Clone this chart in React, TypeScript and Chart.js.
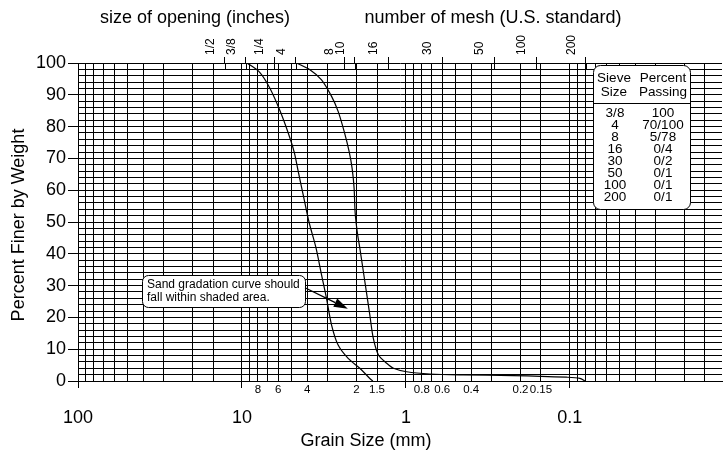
import { useEffect, useRef } from 'react';
import { Chart, registerables } from 'chart.js';

Chart.register(...registerables);

// ---- data (grain size in mm, percent finer by weight) ----
const lowerBoundSize = [9.3, 7.77, 6.74, 5.86, 5.22, 4.8, 4.54, 4.23, 3.9, 3.54, 3.27, 3.05, 2.84, 2.59, 2.25, 1.91, 1.66, 1.59];
const lowerBoundPct = [100, 97, 92, 85, 78, 72, 66, 58.5, 50, 42, 33.4, 26, 17.6, 11.3, 7.1, 4.0, 0.8, 0];

const upperBoundSize = [4.65, 3.85, 3.27, 2.84, 2.59, 2.38, 2.22, 2.13, 2.07, 2.04, 1.976, 1.91, 1.78, 1.66, 1.58, 1.47, 1.31, 1.19, 0.99, 0.714, 0.448, 0.223, 0.105, 0.0868, 0.081];
const upperBoundPct = [100, 97.9, 94.7, 89.5, 84.8, 78.5, 72.2, 67, 60.7, 53, 46.5, 41.8, 31.3, 20.8, 13.4, 8.2, 5.6, 4.0, 2.9, 2.2, 1.9, 1.7, 1.2, 0.85, 0];

// graph-paper vertical lines (mm)
const gridSizes = [100, 90, 80, 70, 60, 50, 40, 30, 20, 15, 10, 9, 8, 7, 6, 5, 4, 3, 2, 1.5, 1, 0.9, 0.8, 0.7, 0.6, 0.5, 0.4, 0.3, 0.2, 0.15, 0.1, 0.09, 0.08, 0.07, 0.06, 0.05, 0.04, 0.03, 0.02, 0.015];
const decadeSizes = [100, 10, 1, 0.1];
const decadeLabels = ['100', '10', '1', '0.1'];
const smallSizes = [8, 6, 4, 2, 1.5, 0.8, 0.6, 0.4, 0.2, 0.15];
const smallLabels = ['8', '6', '4', '2', '1.5', '0.8', '0.6', '0.4', '0.2', '0.15'];

// top axis: sieve openings
const meshSizes = [12.7, 9.5, 6.35, 4.7, 2.38, 2.05, 1.28, 0.6, 0.29, 0.16, 0.08];
const meshLabels = ['1/2', '3/8', '1/4', '4', '8', '10', '16', '30', '50', '100', '200'];

// y grid every 2 %
const percentGrid = Array.from({ length: 51 }, (_, i) => i * 2);

// table
const sieveSizes = ['3/8', '4', '8', '16', '30', '50', '100', '200'];
const percentPassing = ['100', '70/100', '5/78', '0/4', '0/2', '0/1', '0/1', '0/1'];

// annotation (data coords)
const noteText = ['Sand gradation curve should', 'fall within shaded area.'];
const noteBoxCorner = { x: 40.7, y: 33.4 };
const noteArrowTip = { x: 2.26, y: 22.7 };

const X_MIN = 0.0118;
const X_MAX = 100;
const FONT = '"Liberation Sans", Arial, Helvetica, sans-serif';

function roundRect(ctx: CanvasRenderingContext2D, x: number, y: number, w: number, h: number, r: number) {
  ctx.beginPath();
  ctx.moveTo(x + r, y);
  ctx.lineTo(x + w - r, y);
  ctx.arcTo(x + w, y, x + w, y + r, r);
  ctx.lineTo(x + w, y + h - r);
  ctx.arcTo(x + w, y + h, x + w - r, y + h, r);
  ctx.lineTo(x + r, y + h);
  ctx.arcTo(x, y + h, x, y + h - r, r);
  ctx.lineTo(x, y + r);
  ctx.arcTo(x, y, x + r, y, r);
  ctx.closePath();
}

const decorPlugin = {
  id: 'decor',
  afterDraw(chart: any) {
    const ctx: CanvasRenderingContext2D = chart.ctx;
    const xs = chart.scales.x;
    const ys = chart.scales.y;
    const area = chart.chartArea;
    ctx.save();
    ctx.fillStyle = '#000';
    ctx.strokeStyle = '#000';

    // headings
    ctx.font = `18px ${FONT}`;
    ctx.textAlign = 'center';
    ctx.textBaseline = 'middle';
    ctx.fillText('size of opening (inches)', 195, 18);
    ctx.fillText('number of mesh (U.S. standard)', 493, 18);
    ctx.fillText('Grain Size (mm)', 366, 441);
    ctx.save();
    ctx.translate(19, 225);
    ctx.rotate(-Math.PI / 2);
    ctx.fillText('Percent Finer by Weight', 0, 0);
    ctx.restore();

    // top ticks crossing into area
    const xt = chart.scales.xTop;
    ctx.lineWidth = 1;
    meshSizes.forEach((v) => {
      const px = Math.round(xt.getPixelForValue(v)) + 0.5;
      ctx.beginPath();
      ctx.moveTo(px, area.top);
      ctx.lineTo(px, area.top + 6);
      ctx.stroke();
    });

    // annotation box
    const bx = xs.getPixelForValue(noteBoxCorner.x);
    const by = ys.getPixelForValue(noteBoxCorner.y);
    const bw = 163;
    const bh = 32;
    roundRect(ctx, Math.round(bx) + 0.5, Math.round(by) + 0.5, bw, bh, 6);
    ctx.fillStyle = '#fff';
    ctx.fill();
    ctx.lineWidth = 1;
    ctx.stroke();
    ctx.fillStyle = '#000';
    ctx.font = `12px ${FONT}`;
    ctx.textAlign = 'left';
    ctx.textBaseline = 'middle';
    ctx.fillText(noteText[0], bx + 5, by + 10);
    ctx.fillText(noteText[1], bx + 5, by + 23);
    // arrow
    const tx = bx + bw;
    const ty = by + 13;
    const hx = xs.getPixelForValue(noteArrowTip.x);
    const hy = ys.getPixelForValue(noteArrowTip.y);
    const dx = hx - tx;
    const dy = hy - ty;
    const len = Math.hypot(dx, dy);
    const ux = dx / len;
    const uy = dy / len;
    const headL = 14;
    const headW = 4.5;
    ctx.lineWidth = 1.3;
    ctx.beginPath();
    ctx.moveTo(tx, ty);
    ctx.lineTo(hx - ux * headL, hy - uy * headL);
    ctx.stroke();
    ctx.beginPath();
    ctx.moveTo(hx, hy);
    ctx.lineTo(hx - ux * headL - uy * headW, hy - uy * headL + ux * headW);
    ctx.lineTo(hx - ux * headL + uy * headW, hy - uy * headL - ux * headW);
    ctx.closePath();
    ctx.fill();

    // table
    const tl = area.right - 129;
    const tt = area.top + 2;
    const tw = 97;
    const th = 144;
    roundRect(ctx, Math.round(tl) + 0.5, Math.round(tt) + 0.5, tw, th, 7);
    ctx.fillStyle = '#fff';
    ctx.fill();
    ctx.lineWidth = 1;
    ctx.stroke();
    ctx.fillStyle = '#000';
    ctx.font = `13.5px ${FONT}`;
    ctx.textAlign = 'center';
    ctx.textBaseline = 'middle';
    const c1 = tl + 21;
    const c2 = tl + 70;
    ctx.fillText('Sieve', c1, tt + 13);
    ctx.fillText('Size', c1, tt + 27);
    ctx.fillText('Percent', c2, tt + 13);
    ctx.fillText('Passing', c2, tt + 27);
    ctx.beginPath();
    ctx.moveTo(tl, Math.round(tt + 38) + 0.5);
    ctx.lineTo(tl + tw, Math.round(tt + 38) + 0.5);
    ctx.stroke();
    sieveSizes.forEach((s, i) => {
      const yy = tt + 48 + i * 12.07;
      ctx.fillText(s, c1 + 1, yy);
      ctx.fillText(percentPassing[i], c2, yy);
    });

    ctx.restore();
  },
};

export default function App() {
  const canvasRef = useRef<HTMLCanvasElement | null>(null);

  useEffect(() => {
    document.body.style.margin = '0';
    const canvas = canvasRef.current;
    if (!canvas) return;
    Chart.defaults.font.family = FONT;
    Chart.defaults.color = '#000';

    const toPoints = (xs: number[], ys: number[]) => xs.map((x, i) => ({ x, y: ys[i] }));
    const logX = (extra: any) => ({
      type: 'logarithmic',
      min: X_MIN,
      max: X_MAX,
      reverse: true,
      bounds: 'data',
      ...extra,
    });

    const chart = new Chart(canvas, {
      type: 'line',
      data: {
        datasets: [
          {
            label: 'lower bound',
            data: toPoints(lowerBoundSize, lowerBoundPct),
            borderColor: '#000',
            borderWidth: 1.2,
            pointRadius: 0,
            tension: 0.3,
            fill: false,
          },
          {
            label: 'upper bound',
            data: toPoints(upperBoundSize, upperBoundPct),
            borderColor: '#000',
            borderWidth: 1.2,
            pointRadius: 0,
            tension: 0.3,
            fill: false,
          },
        ],
      },
      options: {
        animation: false,
        responsive: false,
        maintainAspectRatio: false,
        layout: { padding: { left: 0, right: 3, top: 0, bottom: 0 } },
        plugins: { legend: { display: false }, tooltip: { enabled: false }, title: { display: false } },
        scales: {
          x: logX({
            position: 'bottom',
            weight: 0,
            afterBuildTicks: (s: any) => {
              s.ticks = gridSizes.map((v) => ({ value: v }));
            },
            ticks: { display: false },
            grid: {
              color: '#000',
              lineWidth: 1,
              tickLength: 7,
              tickColor: (c: any) => (c.tick && decadeSizes.includes(c.tick.value) ? '#000' : 'rgba(0,0,0,0)'),
            },
            border: { display: true, color: '#000' },
            afterFit: (s: any) => {
              s.height = 2;
            },
          }),
          xSmall: logX({
            position: 'bottom',
            weight: 1,
            afterBuildTicks: (s: any) => {
              s.ticks = smallSizes.map((v) => ({ value: v }));
            },
            ticks: {
              autoSkip: false,
              maxRotation: 0,
              minRotation: 0,
              padding: 0,
              font: { size: 11.5 },
              color: '#000',
              callback: (_v: any, i: number) => smallLabels[i],
            },
            grid: { display: false, drawOnChartArea: false, drawTicks: false },
            border: { display: false },
            afterFit: (s: any) => {
              s.height = 20;
            },
          }),
          xBig: logX({
            position: 'bottom',
            weight: 2,
            afterBuildTicks: (s: any) => {
              s.ticks = decadeSizes.map((v) => ({ value: v }));
            },
            ticks: {
              autoSkip: false,
              maxRotation: 0,
              minRotation: 0,
              padding: 4,
              font: { size: 18 },
              color: '#000',
              callback: (_v: any, i: number) => decadeLabels[i],
            },
            grid: { display: false, drawOnChartArea: false, drawTicks: false },
            border: { display: false },
            afterFit: (s: any) => {
              s.height = 49;
            },
          }),
          xTop: logX({
            position: 'top',
            afterBuildTicks: (s: any) => {
              s.ticks = meshSizes.map((v) => ({ value: v }));
            },
            ticks: {
              autoSkip: false,
              maxRotation: 90,
              minRotation: 90,
              padding: 2,
              font: { size: 12 },
              color: '#000',
              callback: (_v: any, i: number) => meshLabels[i],
            },
            grid: { drawOnChartArea: false, color: '#000', tickLength: 6, lineWidth: 1 },
            border: { display: false },
            afterFit: (s: any) => {
              s.height = 63;
            },
          }),
          y: {
            type: 'linear',
            position: 'left',
            min: 0,
            max: 100,
            afterBuildTicks: (s: any) => {
              s.ticks = percentGrid.map((v) => ({ value: v }));
            },
            ticks: {
              autoSkip: false,
              padding: 2,
              font: { size: 18 },
              color: '#000',
              callback: (v: any) => (Number(v) % 10 === 0 ? String(v) : ''),
            },
            grid: {
              color: '#000',
              lineWidth: 1,
              tickLength: 10,
              tickColor: (c: any) => (c.tick && c.tick.value % 10 === 0 ? '#000' : 'rgba(0,0,0,0)'),
            },
            border: { display: true, color: '#000' },
            afterFit: (s: any) => {
              s.width = 78;
            },
          },
        },
      } as any,
      plugins: [decorPlugin],
    } as any);

    return () => {
      chart.destroy();
    };
  }, []);

  return (
    <div style={{ width: 725, height: 452, background: '#fff' }}>
      <canvas ref={canvasRef} width={725} height={452} style={{ display: 'block' }} />
    </div>
  );
}
